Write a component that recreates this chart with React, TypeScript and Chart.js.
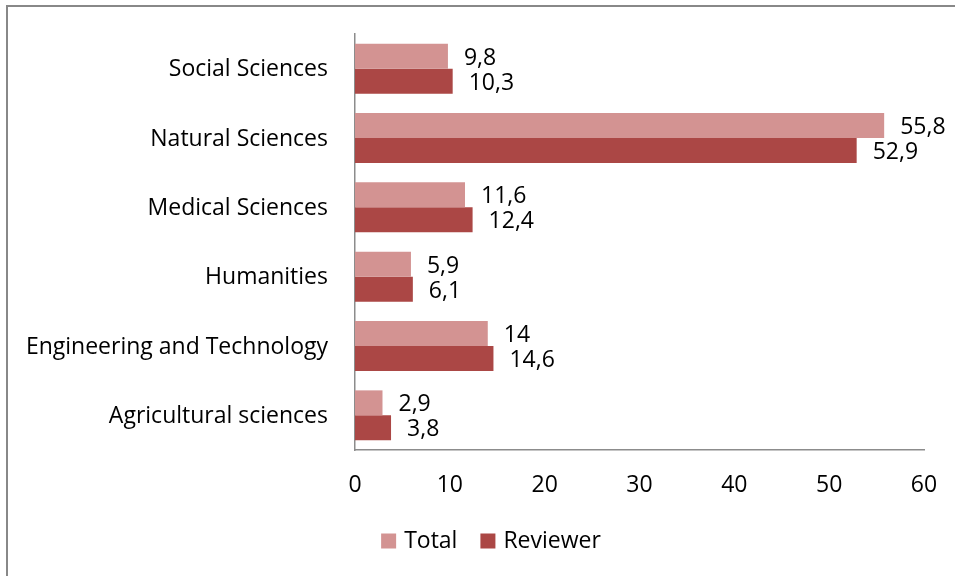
import React, { useEffect, useRef } from "react";
import { Chart, registerables } from "chart.js";

Chart.register(...registerables);

const categories = [
  "Social Sciences",
  "Natural Sciences",
  "Medical Sciences",
  "Humanities",
  "Engineering and Technology",
  "Agricultural sciences",
];
const totalValues = [9.8, 55.8, 11.6, 5.9, 14, 2.9];
const reviewerValues = [10.3, 52.9, 12.4, 6.1, 14.6, 3.8];
const seriesNames = ["Total", "Reviewer"];
const xMin = 0;
const xMax = 60;
const xStep = 10;

const FONT = "'Open Sans', 'Noto Sans', sans-serif";
const FONT_SIZE = 23;
const TOTAL_COLOR = "#D39392";
const REVIEWER_COLOR = "#AB4745";

const fmt = (v: number) => String(v).replace(".", ",");

const dataLabels = {
  id: "dataLabels",
  afterDatasetsDraw(chart: any) {
    const ctx = chart.ctx;
    ctx.save();
    ctx.font = `${FONT_SIZE}px ${FONT}`;
    ctx.fillStyle = "#000";
    ctx.textAlign = "left";
    ctx.textBaseline = "middle";
    chart.data.datasets.forEach((ds: any, i: number) => {
      const meta = chart.getDatasetMeta(i);
      meta.data.forEach((bar: any, j: number) => {
        ctx.fillText(fmt(ds.data[j]), bar.x + 16, bar.y + 2);
      });
    });
    ctx.restore();
  },
};

const bottomLegend = {
  id: "bottomLegend",
  afterDraw(chart: any) {
    const ctx = chart.ctx;
    ctx.save();
    ctx.font = `${FONT_SIZE}px ${FONT}`;
    ctx.textBaseline = "middle";
    ctx.textAlign = "left";
    const box = 15;
    const gapText = 8;
    const gapItem = 23;
    const items = chart.data.datasets.map((ds: any) => ({
      text: ds.label,
      color: ds.backgroundColor,
      w: ctx.measureText(ds.label).width,
    }));
    const total = items.reduce(
      (acc: number, it: any, i: number) => acc + box + gapText + it.w + (i > 0 ? gapItem : 0),
      0
    );
    const centerX = 491;
    const cy = 541;
    let x = centerX - total / 2;
    items.forEach((it: any) => {
      ctx.fillStyle = it.color;
      ctx.fillRect(x, cy - box / 2, box, box);
      x += box + gapText;
      ctx.fillStyle = "#000";
      ctx.fillText(it.text, x, cy);
      x += it.w + gapItem;
    });
    ctx.restore();
  },
};

export default function App() {
  const ref = useRef<HTMLCanvasElement>(null);
  useEffect(() => {
    if (!ref.current) return;
    const chart = new Chart(ref.current, {
      type: "bar",
      data: {
        labels: categories,
        datasets: [
          { label: seriesNames[0], data: totalValues, backgroundColor: TOTAL_COLOR },
          { label: seriesNames[1], data: reviewerValues, backgroundColor: REVIEWER_COLOR },
        ],
      },
      options: {
        indexAxis: "y",
        animation: false,
        responsive: false,
        devicePixelRatio: 1,
        layout: { padding: { top: 34, right: 31, left: 0, bottom: 60 } },
        datasets: { bar: { categoryPercentage: 0.72, barPercentage: 1.0 } },
        scales: {
          x: {
            min: xMin,
            max: xMax,
            grid: { display: false, drawTicks: false },
            border: { display: true, color: "#8C8C8C", width: 1.5 },
            ticks: {
              stepSize: xStep,
              color: "#000",
              font: { family: FONT, size: FONT_SIZE },
              padding: 22,
            },
            afterFit: (s: any) => {
              s.height = 66;
              s.paddingLeft = 0;
              s.paddingRight = 0;
            },
          },
          y: {
            grid: { display: false, drawTicks: false },
            border: { display: true, color: "#8C8C8C", width: 1.5 },
            ticks: {
              color: "#000",
              font: { family: FONT, size: FONT_SIZE },
              padding: 27,
              labelOffset: 1,
            },
            afterFit: (s: any) => {
              s.width = 355;
              s.paddingTop = 0;
              s.paddingBottom = 0;
            },
          },
        },
        plugins: {
          legend: { display: false },
          tooltip: { enabled: false },
        },
      },
      plugins: [dataLabels, bottomLegend],
    });
    return () => chart.destroy();
  }, []);

  return (
    <div style={{ position: "fixed", left: 0, top: 0, width: 955, height: 576, background: "#fff" }}>
      <div
        style={{
          position: "absolute",
          left: 6,
          top: 5,
          width: 1000,
          height: 600,
          borderTop: "2px solid #888",
          borderLeft: "2px solid #888",
        }}
      />
      <canvas ref={ref} width={955} height={576} style={{ position: "absolute", left: 0, top: 0 }} />
    </div>
  );
}
